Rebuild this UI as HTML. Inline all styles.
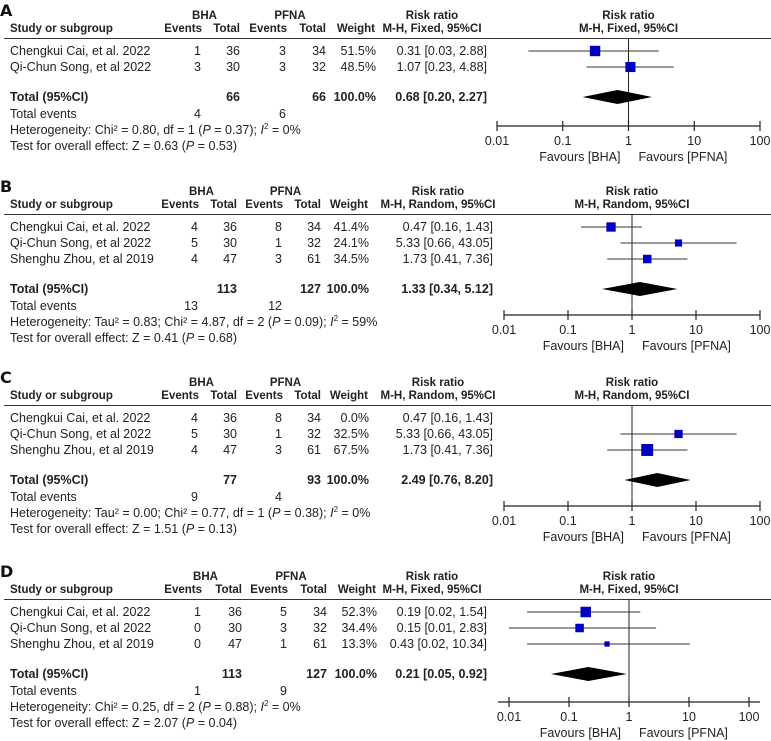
<!DOCTYPE html>
<html><head><meta charset="utf-8">
<style>
html,body{margin:0;padding:0;background:#fff;}
svg{display:block;}
text{font-family:"Liberation Sans",Arial,sans-serif;fill:#222;font-size:12.5px;}
.h{font-family:"Liberation Sans",Arial,sans-serif;font-weight:bold;font-size:11.5px;}
.b{font-weight:bold;}
.lab{font-family:"DejaVu Sans","Liberation Sans",sans-serif;font-weight:bold;font-size:16px;fill:#111;}
</style></head>
<body>
<svg id="chart" width="771" height="741" viewBox="0 0 771 741" xmlns="http://www.w3.org/2000/svg"></svg>
<script>
// ---- Data ----
const panelLabels = ["A","B","C","D"];
const methods = ["M-H, Fixed, 95%CI","M-H, Random, 95%CI","M-H, Random, 95%CI","M-H, Fixed, 95%CI"];
const studiesA = ["Chengkui Cai, et al. 2022","Qi-Chun Song, et al 2022"];
const studiesBCD = ["Chengkui Cai, et al. 2022","Qi-Chun Song, et al 2022","Shenghu Zhou, et al 2019"];
const bhaEventsA = [1,3], bhaTotalA = [36,30], pfnaEventsA = [3,3], pfnaTotalA = [34,32];
const weightsA = [51.5,48.5];
const rrA = [0.31,1.07], loA = [0.03,0.23], hiA = [2.88,4.88];
const bhaEventsB = [4,5,4], bhaTotalB = [36,30,47], pfnaEventsB = [8,1,3], pfnaTotalB = [34,32,61];
const weightsB = [41.4,24.1,34.5];
const rrB = [0.47,5.33,1.73], loB = [0.16,0.66,0.41], hiB = [1.43,43.05,7.36];
const bhaEventsC = [4,5,4], bhaTotalC = [36,30,47], pfnaEventsC = [8,1,3], pfnaTotalC = [34,32,61];
const weightsC = [0.0,32.5,67.5];
const rrC = [0.47,5.33,1.73], loC = [0.16,0.66,0.41], hiC = [1.43,43.05,7.36];
const bhaEventsD = [1,0,0], bhaTotalD = [36,30,47], pfnaEventsD = [5,3,1], pfnaTotalD = [34,32,61];
const weightsD = [52.3,34.4,13.3];
const rrD = [0.19,0.15,0.43], loD = [0.02,0.01,0.02], hiD = [1.54,2.83,10.34];
const totalRR = [0.68,1.33,2.49,0.21], totalLo = [0.20,0.34,0.76,0.05], totalHi = [2.27,5.12,8.20,0.92];
const totalBHA = [66,113,77,113], totalPFNA = [66,127,93,127];
const eventsBHA = [4,13,9,1], eventsPFNA = [6,12,4,9];
const hetText = ["Heterogeneity: Chi² = 0.80, df = 1 (", "Heterogeneity: Tau² = 0.83; Chi² = 4.87, df = 2 (", "Heterogeneity: Tau² = 0.00; Chi² = 0.77, df = 1 (", "Heterogeneity: Chi² = 0.25, df = 2 ("];
const hetP = ["0.37","0.09","0.38","0.88"], hetI = ["0%","59%","0%","0%"];
const zVals = ["0.63","0.41","1.51","2.07"], zP = ["0.53","0.68","0.13","0.04"];
const tickValues = [0.01,0.1,1,10,100];
const tickLabels = ["0.01","0.1","1","10","100"];

// ---- Layout ----
const panels = [
 {top:0, x0:497, x1:760, axisY:126, ext:0, cols:[203,240,288,326,376], rrx:487,
  studies:studiesA, be:bhaEventsA, bt:bhaTotalA, pe:pfnaEventsA, pt:pfnaTotalA, w:weightsA, rr:rrA, lo:loA, hi:hiA},
 {top:176, x0:504, x1:760, axisY:315, ext:0, cols:[200,237,284,321,369], rrx:493,
  studies:studiesBCD, be:bhaEventsB, bt:bhaTotalB, pe:pfnaEventsB, pt:pfnaTotalB, w:weightsB, rr:rrB, lo:loB, hi:hiB},
 {top:367, x0:504, x1:760, axisY:506, ext:0, cols:[200,237,284,321,369], rrx:493,
  studies:studiesBCD, be:bhaEventsC, bt:bhaTotalC, pe:pfnaEventsC, pt:pfnaTotalC, w:weightsC, rr:rrC, lo:loC, hi:hiC},
 {top:561, x0:509, x1:749, axisY:702, ext:11, cols:[203,242,289,327,377], rrx:487,
  studies:studiesBCD, be:bhaEventsD, bt:bhaTotalD, pe:pfnaEventsD, pt:pfnaTotalD, w:weightsD, rr:rrD, lo:loD, hi:hiD}
];

const svg = document.getElementById('chart');
const NS = "http://www.w3.org/2000/svg";
function mk(tag, attrs, parent){
  const e = document.createElementNS(NS, tag);
  for (const k in attrs) e.setAttribute(k, attrs[k]);
  (parent||svg).appendChild(e); return e;
}
function txt(x,y,s,anchor,cls,parent){
  const t = mk('text',{x:x,y:y,'text-anchor':anchor||'start'},parent);
  if(cls) t.setAttribute('class',cls);
  t.textContent = s; return t;
}
function fmt(v){ return v.toFixed(2); }

panels.forEach((p,i)=>{
  const g = mk('g',{});
  
  
  const T = p.top;
  const xs = v => p.x0 + (Math.log10(v) + 2) / 4 * (p.x1 - p.x0);
  const x1v = xs(1);
  const n = p.studies.length;
  const rowY = k => T + 51 + k*16;
  const totY = rowY(n-1) + 30;

  const lab = txt(0, T+16, panelLabels[i], 'start', 'lab', g);
  
  

  const c = p.cols;
  txt((c[0]+c[1])/2-17, T+19, 'BHA','middle','h',g);
  txt((c[2]+c[3])/2-17, T+19, 'PFNA','middle','h',g);
  txt(10, T+32, 'Study or subgroup','start','h',g);
  txt(c[0]-1, T+32, 'Events','end','h',g);
  txt(c[1], T+32, 'Total','end','h',g);
  txt(c[2]-1, T+32, 'Events','end','h',g);
  txt(c[3], T+32, 'Total','end','h',g);
  txt(c[4]-1, T+32, 'Weight','end','h',g);
  txt(p.rrx-55, T+19, 'Risk ratio','middle','h',g);
  txt(p.rrx-55, T+32, methods[i],'middle','h',g);
  txt(x1v, T+19, 'Risk ratio','middle','h',g);
  txt(x1v, T+32, methods[i],'middle','h',g);
  const sep = mk('line',{x1:4,x2:771,y1:T+38.5,y2:T+38.5,stroke:'#333','stroke-width':1},g);
  
  

  const vl = mk('line',{x1:x1v,x2:x1v,y1:T+39,y2:p.axisY,stroke:'#222','stroke-width':1},g);
  
  

  for(let k=0;k<n;k++){
    const y = rowY(k), by = y+4;
    const s = txt(10, by, p.studies[k],'start',null,g);
    
    
    txt(c[0]-2, by, String(p.be[k]),'end',null,g);
    txt(c[1], by, String(p.bt[k]),'end',null,g);
    txt(c[2]-2, by, String(p.pe[k]),'end',null,g);
    txt(c[3], by, String(p.pt[k]),'end',null,g);
    txt(c[4], by, p.w[k].toFixed(1)+'%','end',null,g);
    txt(p.rrx, by, fmt(p.rr[k])+' ['+fmt(p.lo[k])+', '+fmt(p.hi[k])+']','end',null,g);
    if(i===2 && k===0) continue;
    const ci = mk('line',{x1:xs(p.lo[k]),x2:xs(p.hi[k]),y1:y,y2:y,stroke:'#333','stroke-width':1},g);
    
    
    const sz = 1.45*Math.sqrt(p.w[k]);
    const sq = mk('rect',{x:xs(p.rr[k])-sz/2,y:y-sz/2,width:sz,height:sz,fill:'#0000c0'},g);
    
    
  }
  const tb = totY+4;
  txt(10, tb, 'Total (95%CI)','start','b',g);
  txt(c[1], tb, String(totalBHA[i]),'end','b',g);
  txt(c[3], tb, String(totalPFNA[i]),'end','b',g);
  txt(c[4], tb, '100.0%','end','b',g);
  txt(p.rrx, tb, fmt(totalRR[i])+' ['+fmt(totalLo[i])+', '+fmt(totalHi[i])+']','end','b',g);
  const xl = xs(totalLo[i]), xm = xs(totalRR[i]), xh = xs(totalHi[i]);
  const dm = mk('polygon',{points:`${xl},${totY} ${xm},${totY-7} ${xh},${totY} ${xm},${totY+7}`,fill:'#000'},g);
  
  

  txt(10, tb+17, 'Total events','start',null,g);
  txt(c[0]-2, tb+17, String(eventsBHA[i]),'end',null,g);
  txt(c[2]-2, tb+17, String(eventsPFNA[i]),'end',null,g);
  const h = txt(10, tb+33, hetText[i],'start',null,g);
  const t1 = document.createElementNS(NS,'tspan'); t1.setAttribute('font-style','italic'); t1.textContent='P'; h.appendChild(t1);
  h.appendChild(document.createTextNode(' = '+hetP[i]+'); '));
  const t2 = document.createElementNS(NS,'tspan'); t2.setAttribute('font-style','italic'); t2.textContent='I'; h.appendChild(t2);
  const t3 = document.createElementNS(NS,'tspan'); t3.setAttribute('font-size','8'); t3.setAttribute('dy','-5'); t3.textContent='2'; h.appendChild(t3);
  const t4 = document.createElementNS(NS,'tspan'); t4.setAttribute('dy','5'); t4.textContent=' = '+hetI[i]; h.appendChild(t4);
  
  
  const z = txt(10, tb+49, 'Test for overall effect: Z = '+zVals[i]+' (','start',null,g);
  const t5 = document.createElementNS(NS,'tspan'); t5.setAttribute('font-style','italic'); t5.textContent='P'; z.appendChild(t5);
  z.appendChild(document.createTextNode(' = '+zP[i]+')'));
  
  

  const ax = mk('line',{x1:p.x0-p.ext,x2:p.x1+p.ext,y1:p.axisY,y2:p.axisY,stroke:'#222','stroke-width':1.2},g);
  
  
  tickValues.forEach((v,j)=>{
    const tx = xs(v);
    const tk = mk('line',{x1:tx,x2:tx,y1:p.axisY-5,y2:p.axisY+5,stroke:'#222','stroke-width':1.2},g);
    
    
    const tl = txt(tx, p.axisY+19, tickLabels[j],'middle',null,g);
    
    
  });
  const f1 = txt(x1v-8, p.axisY+35, 'Favours [BHA]','end',null,g);
  
  
  const f2 = txt(x1v+10, p.axisY+35, 'Favours [PFNA]','start',null,g);
  
  
});
</script>
</body></html>
